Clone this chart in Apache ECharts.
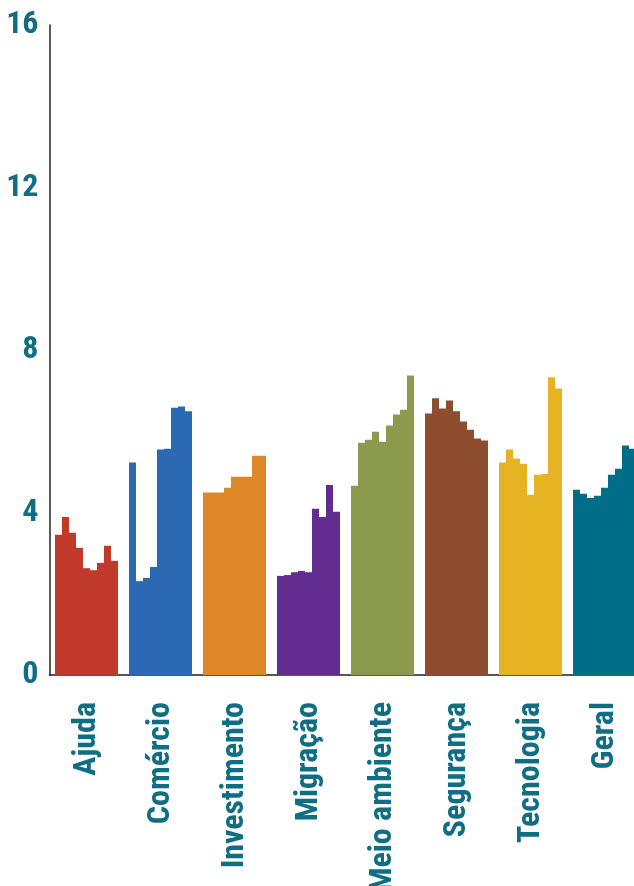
<!DOCTYPE html>
<html>
<head>
<meta charset="utf-8">
<script src="https://cdn.jsdelivr.net/npm/echarts@6/dist/echarts.min.js"></script>
<style>
html,body{margin:0;padding:0;background:#fff;}
#chart{width:634px;height:886px;}
</style>
</head>
<body>
<div id="chart"></div>
<script>
const categories = ['Ajuda','Comércio','Investimento','Migração','Meio ambiente','Segurança','Tecnologia','Geral'];
const colors = ['#c0392a','#2b69b3','#dd8729','#632d8f','#8b9a4c','#8f4d2f','#e6b422','#006e88'];
const yTicks = [0,4,8,12,16];

const ajuda        = [3.45,3.89,3.50,3.13,2.63,2.58,2.76,3.18,2.81];
const comercio     = [5.23,2.31,2.39,2.66,5.55,5.57,6.58,6.61,6.49];
const investimento = [4.49,4.49,4.49,4.61,4.88,4.88,4.88,5.40,5.40];
const migracao     = [2.44,2.46,2.53,2.56,2.53,4.09,3.89,4.68,4.02];
const meioAmbiente = [4.66,5.72,5.79,5.99,5.74,6.14,6.41,6.53,7.37];
const seguranca    = [6.44,6.81,6.56,6.76,6.49,6.24,6.04,5.82,5.77];
const tecnologia   = [5.23,5.55,5.33,5.20,4.44,4.93,4.95,7.33,7.05];
const geral        = [4.56,4.46,4.36,4.41,4.61,4.93,5.08,5.65,5.57];

const groups = [ajuda,comercio,investimento,migracao,meioAmbiente,seguranca,tecnologia,geral];
const nBars = 9;
const font = '"Roboto Condensed","Liberation Sans Narrow","DejaVu Sans Condensed",sans-serif';
const textColor = '#0f6d84';

const series = [];
for (let i = 0; i < nBars; i++) {
  series.push({
    type: 'bar',
    barGap: '0%',
    barWidth: 7,
    silent: true,
    data: groups.map((g, c) => ({
      value: g[i],
      itemStyle: { color: colors[c], borderWidth: 0 }
    }))
  });
}

const chart = echarts.init(document.getElementById('chart'), null, { renderer: 'canvas', devicePixelRatio: 1 });
chart.setOption({
  animation: false,
  backgroundColor: '#ffffff',
  grid: { left: 49.5, top: 25, width: 592, height: 650, containLabel: false, outerBoundsMode: 'none' },
  xAxis: {
    type: 'category',
    data: categories,
    axisLine: { show: true, lineStyle: { color: '#222', width: 1.5 } },
    axisTick: { show: false },
    axisLabel: {
      rotate: 90,
      margin: 27,
      interval: 0,
      color: textColor,
      fontFamily: font,
      fontWeight: 'bold',
      fontSize: 32
    }
  },
  yAxis: {
    type: 'value',
    min: yTicks[0],
    max: yTicks[yTicks.length - 1],
    interval: 4,
    axisLine: { show: true, lineStyle: { color: '#222', width: 1.5 } },
    axisTick: { show: false },
    splitLine: { show: false },
    axisLabel: {
      margin: 11,
      color: textColor,
      fontFamily: font,
      fontWeight: 'bold',
      fontSize: 32
    }
  },
  series: series
});
</script>
</body>
</html>
